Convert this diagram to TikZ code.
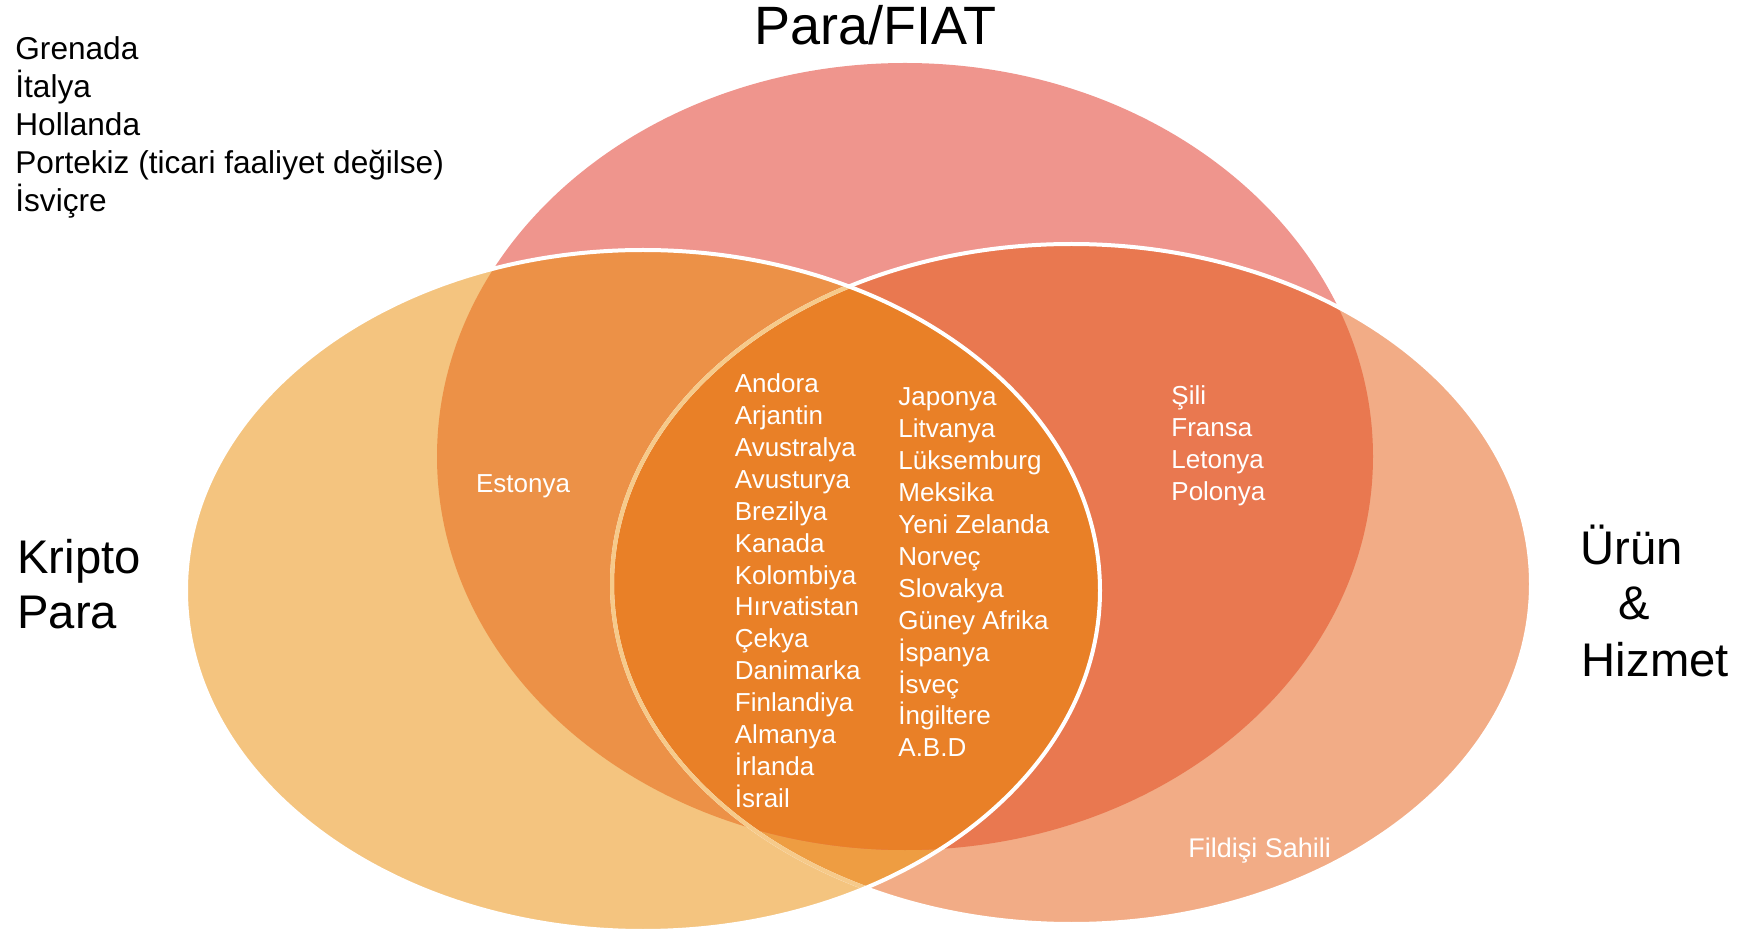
\documentclass[tikz,border=0pt]{standalone}
\usepackage{fontspec}
\setmainfont{Liberation Sans}

\definecolor{fiatpink}{HTML}{EF958D}
\definecolor{kriptoyel}{HTML}{F4C47F}
\definecolor{urunsal}{HTML}{F2AC86}
\definecolor{pkorange}{HTML}{EC9147}
\definecolor{pured}{HTML}{E97850}
\definecolor{kuorange}{HTML}{EE9D42}
\definecolor{allorange}{HTML}{E98027}
\definecolor{rimyel}{HTML}{F6CA8A}

\begin{document}
\begin{tikzpicture}[
  x=0.5pt, y=-0.5pt,
  rim/.style={draw=white, line width=2pt},
  btext/.style={text=black, inner sep=0pt, anchor=base west},
  wtext/.style={text=white, inner sep=0pt, anchor=base west, font=\fontsize{13}{16}\selectfont},
  biglabel/.style={btext, font=\fontsize{23.6}{28}\selectfont}
]
  \useasboundingbox (0,0) rectangle (1742,935);

  % the three sets
  \def\fiat{(905,456.5) ellipse [x radius=234pt, y radius=196.75pt]}
  \def\kripto{(643,590.5) ellipse [x radius=228.5pt, y radius=170.25pt]}
  \def\urun{(1071.5,584) ellipse [x radius=229.75pt, y radius=170pt]}

  \fill[fiatpink] \fiat;
  \fill[kriptoyel] \kripto;
  \fill[urunsal] \urun;
  \begin{scope}
    \clip \kripto;
    \fill[kuorange] \urun;
  \end{scope}
  \begin{scope}
    \clip \fiat;
    \fill[pkorange] \kripto;
    \fill[pured] \urun;
    \clip \kripto;
    \fill[allorange] \urun;
  \end{scope}

  % white rims
  \path[rim] \urun;
  \begin{scope}
    \clip \kripto;
    \path[rim, draw=rimyel] \urun;
  \end{scope}
  \path[rim] \kripto;

  % set names
  \node[btext, font=\fontsize{27}{32}\selectfont] (fiatlbl) at (754,44.3) {Para/FIAT};
  \node[biglabel] (kripto1) at (17,574) {Kripto};
  \node[biglabel] (kripto2) at (17,629) {Para};
  \node[biglabel] (urun1) at (1580,565) {Ürün};
  \node[biglabel] (urun2) at (1618,620) {\&};
  \node[biglabel] (urun3) at (1581.5,676.7) {Hizmet};

  % countries outside the sets
  \foreach \ulke [count=\i] in {Grenada, İtalya, Hollanda, {Portekiz (ticari faaliyet değilse)}, İsviçre}
    \node[btext, font=\fontsize{15.8}{19}\selectfont] (disari\i) at (15,{59.3+38.1*(\i-1)}) {\ulke};

  % countries in all three
  \foreach \ulke [count=\i] in {Andora, Arjantin, Avustralya, Avusturya, Brezilya, Kanada, Kolombiya,
      Hırvatistan, Çekya, Danimarka, Finlandiya, Almanya, İrlanda, İsrail}
    \node[wtext] (ortakA\i) at (734.5,{392.7+31.9*(\i-1)}) {\ulke};
  \foreach \ulke [count=\i] in {Japonya, Litvanya, Lüksemburg, Meksika, Yeni Zelanda, Norveç, Slovakya,
      Güney Afrika, İspanya, İsveç, İngiltere, A.B.D}
    \node[wtext] (ortakB\i) at (898,{406+31.9*(\i-1)}) {\ulke};

  % para and urun only
  \foreach \ulke [count=\i] in {Şili, Fransa, Letonya, Polonya}
    \node[wtext] (pu\i) at (1171,{405+31.9*(\i-1)}) {\ulke};

  \node[wtext] (estonya) at (475.7,492.7) {Estonya};
  \node[wtext, font=\fontsize{13.5}{16}\selectfont] (fildisi) at (1188,857.3) {Fildişi Sahili};
\end{tikzpicture}
\end{document}
